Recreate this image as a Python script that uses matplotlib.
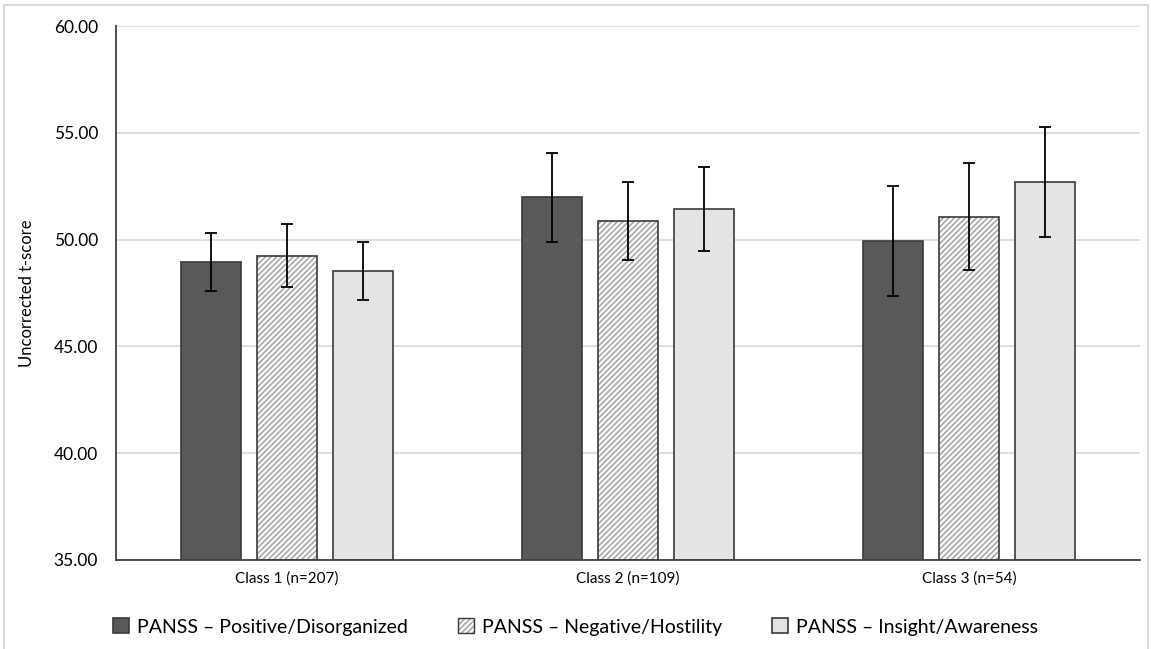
import numpy as np
import matplotlib.pyplot as plt
from matplotlib.patches import Rectangle

plt.rcParams['font.family'] = ['Lato', 'DejaVu Sans']
plt.rcParams['hatch.linewidth'] = 1.2

classes = ["Class 1 (n=207)", "Class 2 (n=109)", "Class 3 (n=54)"]
series = ["PANSS \u2013 Positive/Disorganized",
          "PANSS \u2013 Negative/Hostility",
          "PANSS \u2013 Insight/Awareness"]
positive = [48.95, 51.98, 49.95]
negative = [49.25, 50.87, 51.07]
insight = [48.54, 51.43, 52.68]
positive_err = [1.34, 2.09, 2.57]
negative_err = [1.46, 1.82, 2.50]
insight_err = [1.37, 1.97, 2.58]

fig = plt.figure(figsize=(11.51, 6.49), dpi=100)
ax = fig.add_axes([116 / 1151, 1 - 560 / 649, 1024 / 1151, 534 / 649])

x = np.arange(len(classes))
w = 0.176
step = 0.223
fills = ['#595959', 'white', '#e4e4e4']
data = [(positive, positive_err), (negative, negative_err), (insight, insight_err)]

handles = []
for i, (vals, errs) in enumerate(data):
    pos = x + (i - 1) * step
    heights = np.array(vals) - 35
    if i == 1:
        # light gray diagonal hatching under a dark outline
        ax.bar(pos, heights, w, bottom=35, color='white', hatch='//////',
               edgecolor='#a8a8a8', linewidth=0, zorder=2)
        bars = ax.bar(pos, heights, w, bottom=35, fill=False,
                      edgecolor='#3a3a3a', linewidth=1.2, zorder=2.1)
        proxy = Rectangle((0, 0), 1, 1, facecolor='white', hatch='//////',
                          edgecolor='#a8a8a8', linewidth=0)
        outline = Rectangle((0, 0), 1, 1, fill=False, edgecolor='#3a3a3a', linewidth=1.0)
        handles.append((proxy, outline))
    else:
        bars = ax.bar(pos, heights, w, bottom=35, color=fills[i],
                      edgecolor='#3a3a3a', linewidth=1.2, zorder=2)
        handles.append(bars)
    ax.errorbar(pos, vals, yerr=errs, fmt='none', ecolor='black',
                elinewidth=1.3, capsize=4, capthick=1.3, zorder=3)

ax.set_ylim(35, 60)
ax.set_xlim(-0.5, 2.5)
ax.set_yticks(np.arange(35, 61, 5))
ax.set_yticklabels([f"{v:.2f}" for v in np.arange(35, 61, 5)], fontsize=12.5)
ax.set_xticks(x)
ax.set_xticklabels(classes, fontsize=11)
ax.tick_params(axis='x', length=0, pad=8)
ax.tick_params(axis='y', length=0, pad=13)
ax.yaxis.grid(True, color='#d9d9d9', linewidth=1.2, zorder=0)
ax.set_axisbelow(True)
for s in ['top', 'right']:
    ax.spines[s].set_visible(False)
for s in ['left', 'bottom']:
    ax.spines[s].set_color('#404040')
    ax.spines[s].set_linewidth(1.3)
ax.set_ylabel("Uncorrected t-score", fontsize=12)
ax.yaxis.set_label_coords(-0.079, 0.5)

fig.legend(handles=handles, labels=series, loc='center',
           bbox_to_anchor=(0.5, 1 - 627 / 649), ncol=3, frameon=False,
           fontsize=14, handlelength=0.8, handleheight=0.8,
           columnspacing=2.6, handletextpad=0.4)

fig.patches.append(Rectangle((4 / 1151, -0.05), 1144 / 1151, 1.05 - 5 / 649,
                             transform=fig.transFigure, fill=False,
                             edgecolor='#d9d9d9', linewidth=1.5))

fig.savefig('out.png', dpi=100)
